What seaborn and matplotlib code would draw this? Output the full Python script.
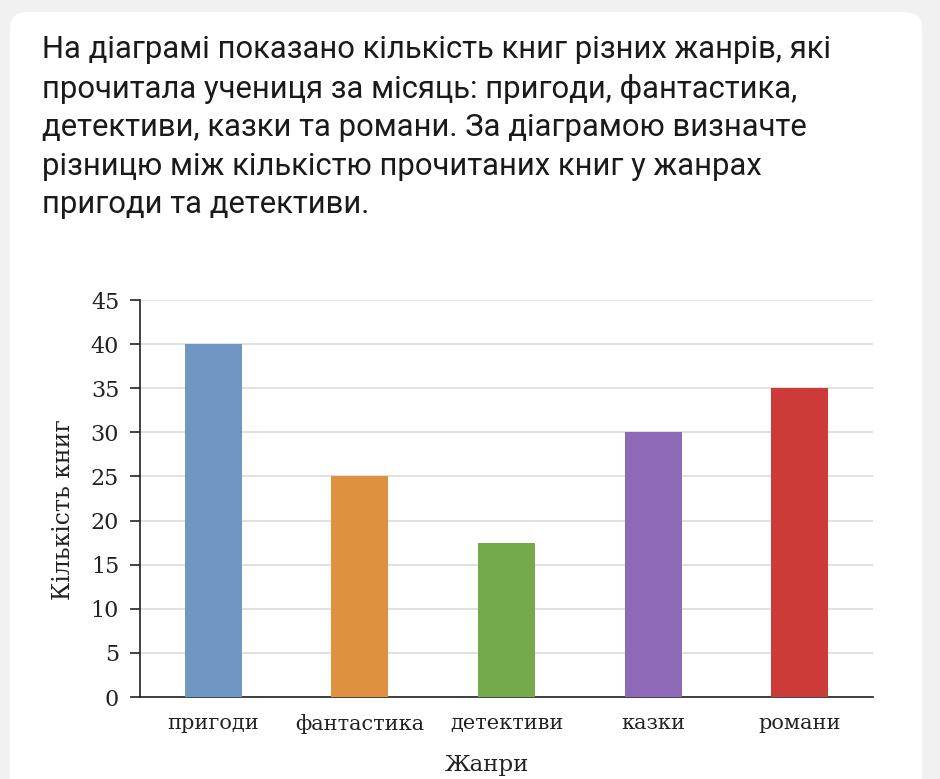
import matplotlib
matplotlib.use("Agg")
import matplotlib.pyplot as plt
from matplotlib.patches import FancyBboxPatch
import seaborn as sns
import pandas as pd

genres = ["пригоди", "фантастика", "детективи", "казки", "романи"]
counts = [40, 25, 17.5, 30, 35]
colors = ["#7096c3", "#e0913f", "#74aa4a", "#8e69b8", "#cc3b37"]
y_ticks = [0, 5, 10, 15, 20, 25, 30, 35, 40, 45]
title_lines = [
    "На діаграмі показано кількість книг різних жанрів, які",
    "прочитала учениця за місяць: пригоди, фантастика,",
    "детективи, казки та романи. За діаграмою визначте",
    "різницю між кількістю прочитаних книг у жанрах",
    "пригоди та детективи.",
]
x_label = "Жанри"
y_label = "Кількість книг"

sns.set_theme(style="white")
plt.rcParams["font.family"] = ["DejaVu Serif"]

fig = plt.figure(figsize=(9.4, 7.79), dpi=100)
fig.patch.set_facecolor("#f1f1f1")
card = FancyBboxPatch((10 / 940, -0.1), 912 / 940, (779 - 12) / 779 + 0.1,
                      boxstyle="round,pad=0,rounding_size=0.02",
                      transform=fig.transFigure, facecolor="white",
                      edgecolor="none", zorder=-5)
fig.patches.append(card)

for i, line in enumerate(title_lines):
    fig.text(42 / 940, 1 - (50 + i * 38.7) / 779, line, fontsize=22.3,
             family=["Roboto", "DejaVu Sans"], color="#1a1a1a",
             va="center", ha="left")

ax = fig.add_axes([140 / 940, 1 - 697 / 779, 733 / 940, 397 / 779])
ax.set_facecolor("none")
df = pd.DataFrame({"genre": genres, "count": counts})
sns.barplot(data=df, x="genre", y="count", hue="genre", palette=colors,
            legend=False, width=0.39, ax=ax, saturation=1, zorder=3,
            linewidth=0, edgecolor="none")

ax.set_ylim(0, 45)
ax.set_xlim(-0.5, len(genres) - 0.5)
ax.set_yticks(y_ticks)
ax.yaxis.grid(True, color="#dcdcdc", linewidth=1.2, zorder=0)
ax.set_axisbelow(True)
for s in ["top", "right"]:
    ax.spines[s].set_visible(False)
for s in ["left", "bottom"]:
    ax.spines[s].set_color("#222222")
    ax.spines[s].set_linewidth(1.2)

ax.set_xticks(range(len(genres)))
ax.set_xticklabels(genres)
ax.set_xticks([i - 0.5 for i in range(len(genres) + 1)], minor=True)
ax.tick_params(axis="x", which="major", length=0, pad=12, labelsize=15, colors="#222222")
ax.tick_params(axis="x", which="minor", length=7, width=1.2, color="#222222", direction="out")
ax.tick_params(axis="y", length=7, width=1.2, color="#222222", pad=8, labelsize=16,
               left=True, direction="out")
for lbl in ax.get_yticklabels():
    lbl.set_color("#222222")

ax.set_xlabel(x_label, fontsize=16.5, color="#222222", va="center")
ax.set_ylabel(y_label, fontsize=17, color="#222222", va="center")
ax.xaxis.set_label_coords((487 - 140) / 733, -(765 - 697) / 397)
ax.yaxis.set_label_coords(-(140 - 63) / 733, (697 - 510) / 397)

fig.savefig("out.png", dpi=100, facecolor=fig.get_facecolor())
